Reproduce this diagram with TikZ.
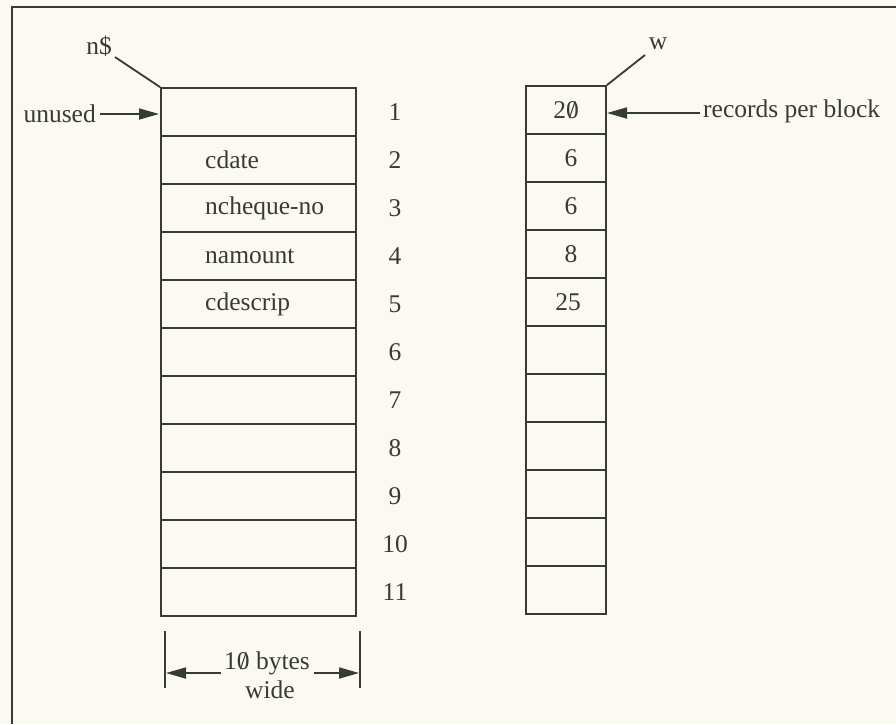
\documentclass[tikz,border=0pt]{standalone}
\usepackage{fontspec}
\setmainfont{Liberation Serif}
\usetikzlibrary{arrows.meta}
\definecolor{ink}{HTML}{353B35}
\definecolor{paper}{HTML}{FBF9F2}
\newcommand\szero{\ooalign{0\cr\hidewidth/\hidewidth}}
\tikzset{
  txt/.style={font=\fontsize{25.5}{27}\selectfont, text=ink, inner sep=0pt},
  lcell/.style={draw=ink, line width=1.8pt, minimum width=195pt, minimum height=48pt, inner sep=0pt},
  rcell/.style={draw=ink, line width=1.8pt, minimum width=80pt, minimum height=48pt, inner sep=0pt},
  conn/.style={draw=ink, line width=1.8pt},
  arr/.style={conn, -{Triangle[length=20pt,width=11pt]}},
}
\begin{document}
\begin{tikzpicture}[x=1pt,y=-1pt]
\fill[paper] (0,0) rectangle (896,724);
\useasboundingbox (0,0) rectangle (896,724);
% frame (left and top only)
\draw[ink, line width=2.2pt] (12,724) -- (12,7) -- (896,7);
% left column
\foreach \i in {1,...,11}{
  \node[lcell] (L\i) at (258.5,{88+48*(\i-0.5)}) {};
  \node[txt] (N\i) at (395,{88+48*(\i-0.5)}) {\i};
}
\foreach \i in {1,...,11}{
  \node[rcell] (R\i) at (566,{86+48*(\i-0.5)}) {};
}
\node[txt, anchor=west] (f2) at (205,160) {cdate};
\node[txt, anchor=west] (f3) at (205,208) {ncheque-no};
\node[txt, anchor=west] (f4) at (205,256) {namount};
\node[txt, anchor=west] (f5) at (205,304) {cdescrip};
\node[txt] (v1) at (R1.center) {2\szero};
\node[txt] (v2) at ([xshift=5pt]R2.center) {6};
\node[txt] (v3) at ([xshift=5pt]R3.center) {6};
\node[txt] (v4) at ([xshift=5pt]R4.center) {8};
\node[txt] (v5) at ([xshift=2pt]R5.center) {25};
% pointer labels
\node[txt] (nd) at (99,46) {n\$};
\coordinate (nd0) at (115,57);
\draw[conn] (nd0) -- (L1.north west);
\node[txt] (w) at (658,44) {w};
\coordinate (w0) at (645,55);
\draw[conn] (w0) -- (R1.north east);
% unused
\node[txt, anchor=east] (un) at (96,114) {unused};
\coordinate (unt) at (159,114);
\draw[arr] (un.east) ++(4pt,0) -- (unt);
% records per block
\node[txt, anchor=west] (rpb) at (703,111) {records per block};
\coordinate (rpt) at (607,113);
\coordinate (rps) at (700,113);
\draw[arr] (rps) -- (rpt);
% width dimension
\coordinate (t1a) at (165,631); \coordinate (t1b) at (165,688);
\coordinate (t2a) at (360,631); \coordinate (t2b) at (360,688);
\draw[conn] (t1a) -- (t1b);
\draw[conn] (t2a) -- (t2b);
\node[txt] (bw) at (267,663) {1\szero{} bytes};
\node[txt] (wd) at (270,690) {wide};
\coordinate (al) at (166,673);
\coordinate (ar) at (359,673);
\draw[arr] (221,673) -- (al);
\draw[arr] (314,673) -- (ar);
\end{tikzpicture}
\end{document}
